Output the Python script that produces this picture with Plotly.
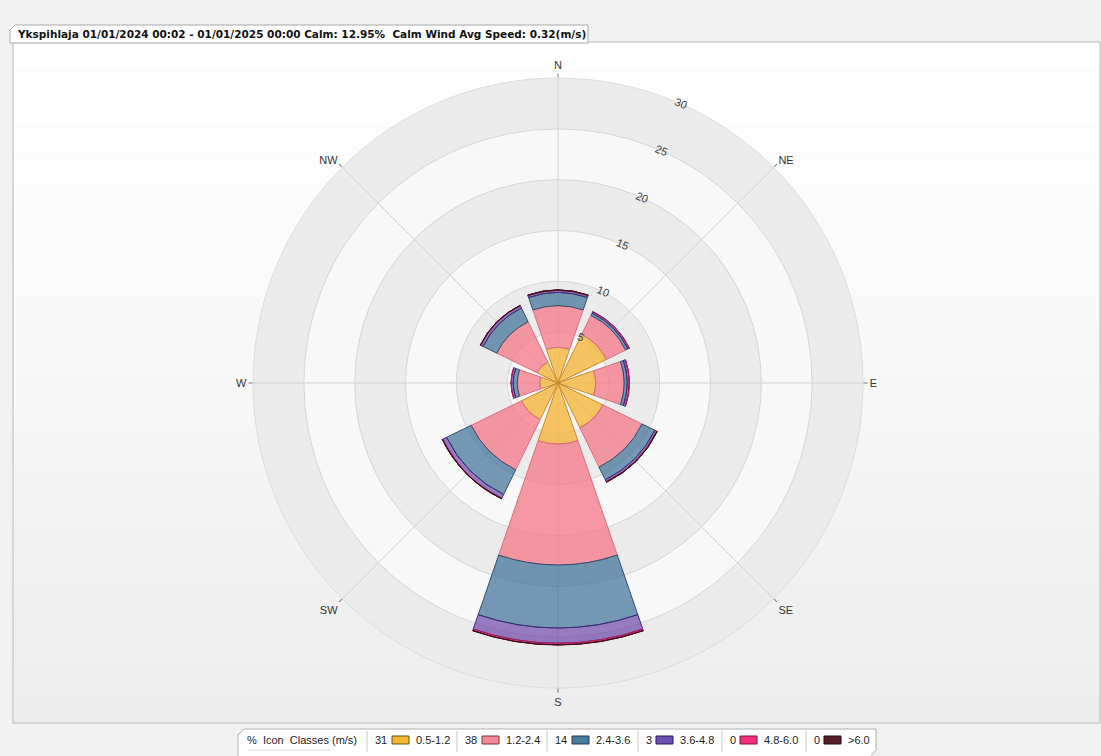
import plotly.graph_objects as go

W, H = 1101, 756

# ---- data ----
directions = ["N", "NE", "E", "SE", "S", "SW", "W", "NW"]
speed_classes = ["0.5-1.2", "1.2-2.4", "2.4-3.6", "3.6-4.8", "4.8-6.0", ">6.0"]
class_percent = [31, 38, 14, 3, 0, 0]

freq_05_12 = [3.5, 5.3, 3.7, 4.9, 6.0, 4.0, 1.8, 2.3]
freq_12_24 = [4.1, 2.1, 2.8, 4.3, 11.9, 5.5, 2.2, 4.4]
freq_24_36 = [1.3, 0.25, 0.3, 1.4, 6.2, 2.7, 0.4, 1.5]
freq_36_48 = [0.2, 0.15, 0.2, 0.2, 1.5, 0.4, 0.2, 0.25]
freq_48_60 = [0.04, 0.03, 0.03, 0.06, 0.15, 0.06, 0.02, 0.04]
freq_60_up = [0.01, 0.0, 0.0, 0.01, 0.03, 0.01, 0.0, 0.01]

radial_ticks = [5, 10, 15, 20, 25, 30]

title_text = ("Ykspihlaja 01/01/2024 00:02 - 01/01/2025 00:00 Calm: 12.95%  "
              "Calm Wind Avg Speed: 0.32(m/s)")

# ---- styles ----
fills = ["rgba(244,178,48,0.75)", "rgba(245,120,135,0.75)", "rgba(60,110,150,0.7)",
         "rgba(110,70,170,0.7)", "rgba(235,40,120,0.8)", "rgba(90,30,40,0.8)"]
edges = ["#C88A30", "#D9707E", "#34506C", "#3A2A78", "#B0185A", "#3A1018"]
swatch_fill = ["#F5B730", "#F38A95", "#4A7A9E", "#6A4FB0", "#F0307A", "#5A1E2A"]
swatch_edge = ["#6B5018", "#7A3038", "#1F3A55", "#2A1A60", "#7A1040", "#200810"]


def px_x(x):
    return x / W


def px_y(y):
    return 1 - y / H


cx, cy, rad = 558, 383, 305
domain = {"x": [px_x(cx - rad), px_x(cx + rad)], "y": [px_y(cy + rad), px_y(cy - rad)]}

fig = go.Figure()

# alternating background bands (on their own polar subplot, behind the data)
band_r = radial_ticks[::-1]
band_colors = ["#EBEBEB" if i % 2 == 0 else "#F8F8F8" for i in range(len(band_r))]
fig.add_trace(go.Barpolar(
    r=band_r, theta=[0] * len(band_r), width=[360] * len(band_r),
    marker={"color": band_colors, "line": {"width": 0}},
    subplot="polar", hoverinfo="skip", showlegend=False
))

series = [freq_05_12, freq_12_24, freq_24_36, freq_36_48, freq_48_60, freq_60_up]
for name, values, fill, edge in zip(speed_classes, series, fills, edges):
    fig.add_trace(go.Barpolar(
        r=values, theta=directions, width=[0.845] * len(directions),
        name=name, subplot="polar2",
        marker={"color": fill, "line": {"color": edge, "width": 1}},
        hovertemplate="<b>%{theta}</b><br>" + name + ": %{r}%<extra></extra>",
        showlegend=False
    ))

hidden_axis = {"visible": False, "range": [0, 30]}
fig.update_layout(
    width=W, height=H,
    margin={"l": 0, "r": 0, "t": 0, "b": 0},
    paper_bgcolor="#F1F1F1",
    font={"family": "Liberation Sans, Arial", "size": 11, "color": "#333333"},
    polar={
        "domain": domain,
        "bgcolor": "rgba(0,0,0,0)",
        "barmode": "overlay",
        "radialaxis": hidden_axis,
        "angularaxis": {"visible": False, "direction": "clockwise", "rotation": 90},
    },
    polar2={
        "domain": domain,
        "bgcolor": "rgba(0,0,0,0)",
        "barmode": "stack",
        "radialaxis": {
            "range": [0, 30],
            "tickvals": radial_ticks,
            "showline": False,
            "ticks": "",
            "angle": 67.5,
            "tickangle": 90,
            "gridcolor": "#D6D6D6",
            "tickfont": {"size": 11, "color": "#444444"},
        },
        "angularaxis": {
            "direction": "clockwise",
            "rotation": 90,
            "type": "category",
            "categoryarray": directions,
            "gridcolor": "#D2D2D2",
            "linecolor": "#DDDDDD",
            "ticks": "outside",
            "ticklen": 4,
            "tickcolor": "#777777",
            "tickfont": {"size": 11, "color": "#333333"},
        },
    },
)

shapes = []
# main panel with a soft vertical gradient
top, bottom, left, right = 42, 723, 13, 1100
steps = 24
for i in range(steps):
    y0 = top + (bottom - top) * i / steps
    y1 = top + (bottom - top) * (i + 1) / steps
    g = int(255 - 18 * (i / (steps - 1)) ** 1.3)
    shapes.append({"type": "rect", "xref": "paper", "yref": "paper", "layer": "below",
                   "x0": px_x(left), "x1": px_x(right), "y0": px_y(y1), "y1": px_y(y0),
                   "fillcolor": f"rgb({g},{g},{g})", "line": {"width": 0}})
shapes.append({"type": "rect", "xref": "paper", "yref": "paper", "layer": "below",
               "x0": px_x(left), "x1": px_x(right), "y0": px_y(bottom), "y1": px_y(top),
               "line": {"color": "#B8B8B8", "width": 1}})


def tab_path(points):
    return "M " + " L ".join(f"{px_x(x)},{px_y(y)}" for x, y in points) + " Z"


# title tab
shapes.append({"type": "path", "xref": "paper", "yref": "paper", "layer": "below",
               "path": tab_path([(10, 43), (10, 30), (15, 25), (588, 25), (588, 43)]),
               "fillcolor": "#FFFFFF", "line": {"color": "#A8A8A8", "width": 1}})
# legend tab
shapes.append({"type": "path", "xref": "paper", "yref": "paper", "layer": "below",
               "path": tab_path([(238, 757), (238, 735), (244, 729), (876, 729),
                                 (876, 750), (870, 757)]),
               "fillcolor": "#FFFFFF", "line": {"color": "#B0B0B0", "width": 1}})

annotations = [{
    "text": "<b>" + title_text + "</b>", "x": px_x(15), "y": px_y(34),
    "xref": "paper", "yref": "paper", "xanchor": "left", "yanchor": "middle",
    "showarrow": False, "font": {"family": "DejaVu Sans", "size": 10.5, "color": "#111111"},
}]

legend_y = 740
annotations.append({"text": "%  Icon  Classes (m/s)", "x": px_x(245), "y": px_y(legend_y),
                    "xref": "paper", "yref": "paper", "xanchor": "left", "yanchor": "middle",
                    "showarrow": False, "font": {"size": 11, "color": "#222222"}})
shapes.append({"type": "line", "xref": "paper", "yref": "paper",
               "x0": px_x(248), "x1": px_x(330), "y0": px_y(750), "y1": px_y(750),
               "line": {"color": "#DDDDDD", "width": 1}})

item_x = [373, 463, 553, 644, 728, 812]
for i, (label, pct) in enumerate(zip(speed_classes, class_percent)):
    x = item_x[i]
    shapes.append({"type": "line", "xref": "paper", "yref": "paper",
                   "x0": px_x(x - 6), "x1": px_x(x - 6), "y0": px_y(752), "y1": px_y(731),
                   "line": {"color": "#C8C8C8", "width": 1}})
    num_w = 7 * len(str(pct))
    annotations.append({"text": str(pct), "x": px_x(x), "y": px_y(legend_y),
                        "xref": "paper", "yref": "paper", "xanchor": "left", "yanchor": "middle",
                        "showarrow": False, "font": {"size": 11, "color": "#222222"}})
    sx0 = x + num_w + 5
    shapes.append({"type": "rect", "xref": "paper", "yref": "paper",
                   "x0": px_x(sx0), "x1": px_x(sx0 + 17), "y0": px_y(744), "y1": px_y(736),
                   "fillcolor": swatch_fill[i], "line": {"color": swatch_edge[i], "width": 1}})
    annotations.append({"text": label, "x": px_x(sx0 + 22), "y": px_y(legend_y),
                        "xref": "paper", "yref": "paper", "xanchor": "left", "yanchor": "middle",
                        "showarrow": False, "font": {"size": 11, "color": "#222222"}})

fig.update_layout(shapes=shapes, annotations=annotations)

# drop the default body margin so the figure sits at the window's top-left corner
fig.write_html("out.html", config={"displayModeBar": False},
               post_script="document.body.style.margin='0';")
